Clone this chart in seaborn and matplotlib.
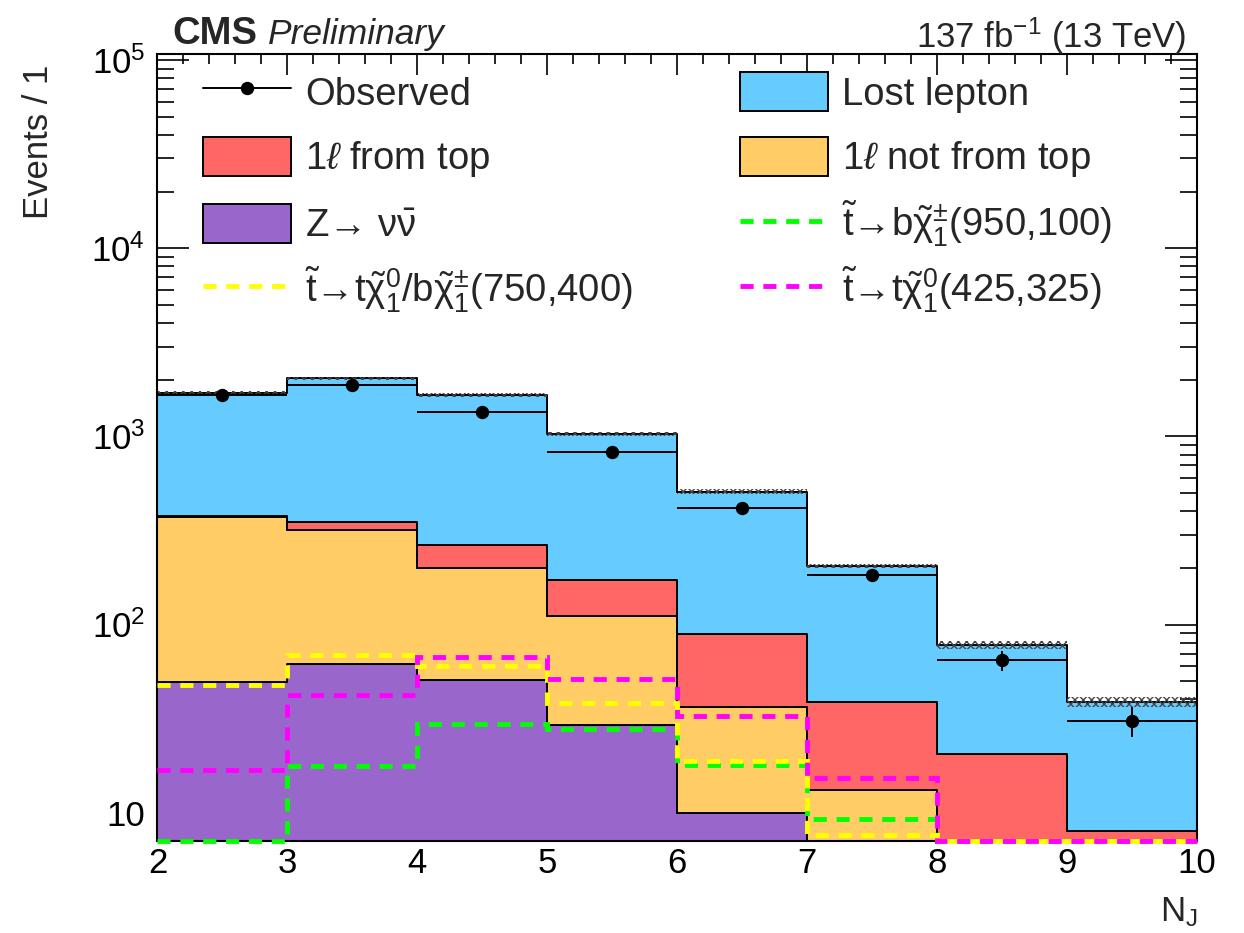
import numpy as np
import pandas as pd
import seaborn as sns
import matplotlib
matplotlib.use("Agg")
import matplotlib.pyplot as plt
from matplotlib.patches import Patch
from matplotlib.lines import Line2D
from matplotlib.legend import Legend
from matplotlib.ticker import MultipleLocator, LogLocator, NullFormatter, FuncFormatter

# ---------------- data ----------------
bin_edges = [2, 3, 4, 5, 6, 7, 8, 9, 10]
lost_lepton = [1321, 1684, 1396, 858, 419, 166, 57.2, 30.8]
onel_top = [7.5, 35, 64, 61, 52.4, 25.6, 15.6, 6.0]
onel_nottop = [321.5, 255, 148.5, 81.9, 26.5, 10.2, 4.0, 1.5]
znunu = [49.5, 62, 50.5, 29.1, 10.0, 3.0, 1.0, 0.5]
observed = [1660, 1879, 1354, 824, 417, 183, 64.7, 30.8]
bkg_rel_unc = [0.02, 0.02, 0.02, 0.025, 0.03, 0.03, 0.05, 0.065]
sig_950_100 = [0, 17.8, 29.5, 28.0, 18.0, 9.3, 0, 0]
sig_750_400 = [47.6, 68.7, 60.4, 38.1, 18.8, 7.6, 0, 0]
sig_425_325 = [16.9, 42.1, 67.3, 51.3, 32.8, 15.2, 0, 0]

proc_names = ["Lost lepton", "1l from top", "1l not from top", "Znunu"]
proc_colors = ["#66CCFF", "#FF6666", "#FFCC66", "#9966CC"]

YMIN, YMAX = 7.07, 1.076e5

# ---------------- style ----------------
sns.set_style("ticks")
plt.rcParams["font.family"] = ["Liberation Sans", "DejaVu Sans"]
plt.rcParams["mathtext.fontset"] = "custom"
plt.rcParams["mathtext.rm"] = "Liberation Sans"
plt.rcParams["mathtext.it"] = "Liberation Sans:italic"
plt.rcParams["mathtext.bf"] = "Liberation Sans:bold"
plt.rcParams["hatch.linewidth"] = 1.0
plt.rcParams["axes.linewidth"] = 1.5

edges = np.array(bin_edges, dtype=float)
centers = 0.5 * (edges[:-1] + edges[1:])

rows = []
for name, vals in zip(proc_names, [lost_lepton, onel_top, onel_nottop, znunu]):
    for c, v in zip(centers, vals):
        rows.append({"NJ": c, "w": v, "process": name})
df = pd.DataFrame(rows)

fig = plt.figure(figsize=(12.44, 9.33), dpi=100)
ax = fig.add_axes([0.1266, 0.0986, 0.8356, 0.8435])

sns.histplot(data=df, x="NJ", weights="w", hue="process", hue_order=proc_names,
             palette=dict(zip(proc_names, proc_colors)), multiple="stack",
             element="step", binwidth=1, binrange=(bin_edges[0], bin_edges[-1]),
             alpha=1, edgecolor="black", linewidth=1.4, legend=False, ax=ax)
ax.set_yscale("log")

# background uncertainty band (hatched)
total = np.array(lost_lepton) + np.array(onel_top) + np.array(onel_nottop) + np.array(znunu)
unc = np.array(bkg_rel_unc)
ax.bar(centers, 2 * unc * total, bottom=total * (1 - unc), width=1.0, fill=False,
       hatch="xxxx", edgecolor="#444444", linewidth=0, zorder=2)

# signals
dash = (0, (2.7, 2.0))
sig_styles = [(sig_950_100, "#00FF00"), (sig_750_400, "#FFFF00"), (sig_425_325, "#FF00FF")]
for vals, col in sig_styles:
    ax.stairs(np.clip(np.array(vals, dtype=float), YMIN, None), edges, baseline=None,
              color=col, linewidth=3.5, linestyle=dash, zorder=3, clip_on=False)

# observed
obs = np.array(observed)
ax.errorbar(centers, obs, xerr=0.5, yerr=np.sqrt(obs), fmt="o", color="black",
            markersize=8.6, elinewidth=1.4, capsize=0, zorder=5)

ax.set_xlim(2, 10)
ax.set_ylim(YMIN, YMAX)
ax.set_xlabel("")
ax.set_ylabel("")

ax.xaxis.set_major_locator(MultipleLocator(1))
ax.xaxis.set_minor_locator(MultipleLocator(0.2))
ax.yaxis.set_major_locator(LogLocator(base=10, numticks=10))
ax.yaxis.set_minor_locator(LogLocator(base=10, subs=np.arange(2, 10), numticks=20))
ax.yaxis.set_minor_formatter(NullFormatter())
ax.yaxis.set_major_formatter(FuncFormatter(
    lambda v, p: "10" if abs(v - 10) < 1e-6 else r"$10^{%d}$" % int(round(np.log10(v)))))

ax.tick_params(axis="both", which="both", direction="in", top=True, right=True,
               labelsize=25, width=1.2, colors="black")
ax.tick_params(axis="x", which="major", length=15, pad=4)
ax.tick_params(axis="x", which="minor", length=7.2)
ax.tick_params(axis="y", which="major", length=23, pad=9)
ax.tick_params(axis="y", which="minor", length=12)
for s in ax.spines.values():
    s.set_visible(True)
    s.set_linewidth(1.5)
    s.set_color("black")

# legend entries
legend_fs = 27.5
chi = r"\tilde{\mathrm{\chi}}"
tt = r"$\tilde{\mathrm{t}}$"
entries = [
    (Line2D([], [], color="black", lw=1.4, marker="o", markersize=8.6), "Observed"),
    (Patch(facecolor=proc_colors[0], edgecolor="black", linewidth=1.4), "Lost lepton"),
    (Patch(facecolor=proc_colors[1], edgecolor="black", linewidth=1.4), "1$\\mathit{\\ell}$ from top"),
    (Patch(facecolor=proc_colors[2], edgecolor="black", linewidth=1.4), "1$\\mathit{\\ell}$ not from top"),
    (Patch(facecolor=proc_colors[3], edgecolor="black", linewidth=1.4),
     "Z\u2192 " + r"$\mathrm{\nu}\bar{\mathrm{\nu}}$"),
    (Line2D([], [], color="#00FF00", lw=3.5, ls=dash),
     tt + "\u2192b$" + chi + r"^{\pm}_{1}$(950,100)"),
    (Line2D([], [], color="#FFFF00", lw=3.5, ls=dash),
     tt + "\u2192t$" + chi + r"^{0}_{1}$/b$" + chi + r"^{\pm}_{1}$(750,400)"),
    (Line2D([], [], color="#FF00FF", lw=3.5, ls=dash),
     tt + "\u2192t$" + chi + r"^{0}_{1}$(425,325)"),
]
col_x = [0.0438, 0.5604]
row_y = [0.9513, 0.8679, 0.7836, 0.7001]
for i, (h, l) in enumerate(entries):
    leg = Legend(ax, [h], [l], loc="center left",
                 bbox_to_anchor=(col_x[i % 2], row_y[i // 2]), bbox_transform=ax.transAxes,
                 frameon=False, fontsize=legend_fs, handlelength=2.30, handleheight=1.20,
                 handletextpad=0.37, borderpad=0, borderaxespad=0)
    leg.set_zorder(10)
    ax.add_artist(leg)

W, H = 1244.0, 933.0
fig.text(172 / W, 1 - 44 / H, "CMS", weight="bold", size=27.5, va="baseline", ha="left")
fig.text(268 / W, 1 - 44 / H, "Preliminary", style="italic", size=25.5, va="baseline", ha="left")
fig.text(1186 / W, 1 - 47.7 / H, r"137 fb$^{\mathrm{-1}}$ (13 TeV)", size=25, va="baseline", ha="right")
fig.text(39 / W, 1 - 65 / H, "Events / 1", rotation=90, size=25, va="top", ha="center")
fig.text(1198 / W, 1 - 921 / H, r"N$_{\mathrm{J}}$", size=25, va="baseline", ha="right")

fig.savefig("out.png", dpi=100)
